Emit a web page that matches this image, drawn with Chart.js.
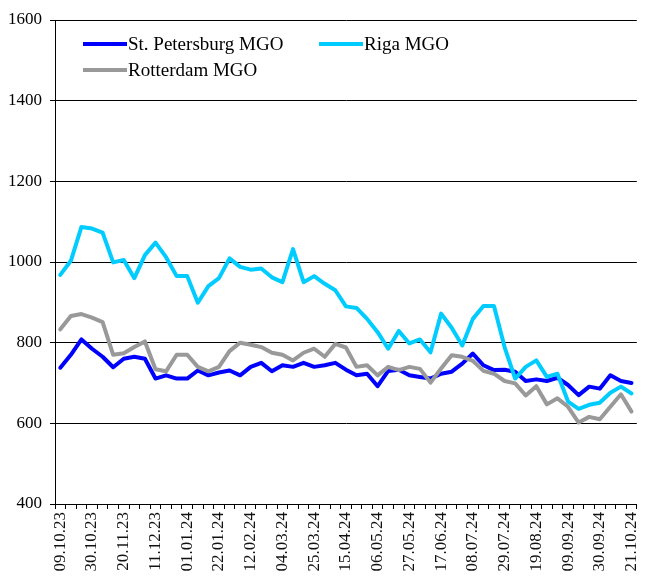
<!DOCTYPE html>
<html>
<head>
<meta charset="utf-8">
<script src="https://cdn.jsdelivr.net/npm/chart.js@4.4.1/dist/chart.umd.min.js"></script>
<style>
  html, body { margin: 0; padding: 0; background: #fff; }
  #wrap { width: 655px; height: 584px; position: relative; }
</style>
</head>
<body>
<div id="wrap"><canvas id="fuelChart"></canvas></div>
<script>
// weekly dates (every third one is labelled on the axis)
const dates = [
  '09.10.23', '16.10.23', '23.10.23', '30.10.23', '06.11.23', '13.11.23', '20.11.23', '27.11.23',
  '04.12.23', '11.12.23', '18.12.23', '25.12.23', '01.01.24', '08.01.24', '15.01.24', '22.01.24',
  '29.01.24', '05.02.24', '12.02.24', '19.02.24', '26.02.24', '04.03.24', '11.03.24', '18.03.24',
  '25.03.24', '01.04.24', '08.04.24', '15.04.24', '22.04.24', '29.04.24', '06.05.24', '13.05.24',
  '20.05.24', '27.05.24', '03.06.24', '10.06.24', '17.06.24', '24.06.24', '01.07.24', '08.07.24',
  '15.07.24', '22.07.24', '29.07.24', '05.08.24', '12.08.24', '19.08.24', '26.08.24', '02.09.24',
  '09.09.24', '16.09.24', '23.09.24', '30.09.24', '07.10.24', '14.10.24', '21.10.24'
];

const stPetersburg = [
  738, 770, 808, 785, 765, 739, 760, 765, 760, 711, 719, 711, 711, 731, 719, 726,
  731, 719, 740, 750, 729, 744, 740, 750, 740, 744, 750, 733, 719, 723, 692, 730,
  733, 719, 715, 711, 723, 728, 748, 773, 744, 732, 733, 728, 705, 709, 705, 713,
  695, 670, 691, 686, 719, 705, 700
];

const riga = [
  968, 1003, 1087, 1083, 1073, 999, 1005, 960, 1017, 1048, 1012, 965, 965, 899, 940, 960,
  1009, 988, 981, 984, 962, 950, 1032, 950, 965, 946, 930, 890, 886, 859, 826, 785,
  829, 798, 808, 776, 872, 837, 793, 859, 891, 891, 789, 711, 740, 756, 715, 723,
  654, 636, 646, 651, 676, 691, 674
];

const rotterdam = [
  833, 866, 871, 862, 851, 770, 774, 789, 803, 734, 729, 770, 770, 740, 729, 740,
  779, 800, 795, 789, 775, 770, 756, 775, 785, 765, 797, 788, 740, 744, 719, 740,
  732, 740, 735, 701, 736, 769, 765, 755, 730, 723, 705, 699, 669, 692, 647, 662,
  641, 602, 616, 610, 641, 672, 629
];

const yTicks = [400, 600, 800, 1000, 1200, 1400, 1600];

const serif = '"Liberation Serif", "Times New Roman", serif';

// legend drawn inside the plot, two columns like the original
const insideLegend = {
  id: 'insideLegend',
  afterDraw(chart) {
    const ctx = chart.ctx;
    const spots = [
      { x: 83, y: 44 },
      { x: 319, y: 44 },
      { x: 83, y: 70 }
    ];
    ctx.save();
    ctx.font = '19px ' + serif;
    ctx.textBaseline = 'middle';
    chart.data.datasets.forEach((ds, i) => {
      const p = spots[i];
      ctx.strokeStyle = ds.borderColor;
      ctx.lineWidth = 4;
      ctx.beginPath();
      ctx.moveTo(p.x, p.y);
      ctx.lineTo(p.x + 44, p.y);
      ctx.stroke();
      ctx.fillStyle = '#000';
      ctx.fillText(ds.label, p.x + 45, p.y + 1);
    });
    ctx.restore();
  }
};

const ctx = document.getElementById('fuelChart').getContext('2d');
new Chart(ctx, {
  type: 'line',
  data: {
    labels: dates,
    datasets: [
      { label: 'St. Petersburg MGO', data: stPetersburg, borderColor: '#0000FF', order: 3 },
      { label: 'Riga MGO', data: riga, borderColor: '#00CCFF', order: 2 },
      { label: 'Rotterdam MGO', data: rotterdam, borderColor: '#999999', order: 1 }
    ]
  },
  options: {
    responsive: true,
    maintainAspectRatio: false,
    animation: false,
    layout: { padding: { top: 20, right: 10, left: 0, bottom: 0 } },
    elements: {
      line: { borderWidth: 4, tension: 0, borderJoinStyle: 'round', borderCapStyle: 'round' },
      point: { radius: 0 }
    },
    plugins: {
      legend: { display: false },
      tooltip: { enabled: false }
    },
    scales: {
      x: {
        offset: true,
        grid: { display: true, drawOnChartArea: false, offset: true, color: '#000', tickLength: 5 },
        border: { display: true, color: '#000', width: 1 },
        ticks: {
          autoSkip: false,
          maxRotation: 90,
          minRotation: 90,
          padding: 3,
          color: '#111',
          font: { family: serif, size: 17 },
          callback: (v, i) => (i % 3 === 0 ? dates[i] : '')
        },
        afterFit(scale) { scale.height = 80; }
      },
      y: {
        min: 400,
        max: 1600,
        afterBuildTicks(scale) { scale.ticks = yTicks.map(v => ({ value: v })); },
        grid: { color: '#000', lineWidth: 1, tickLength: 5 },
        border: { display: true, color: '#000', width: 1 },
        ticks: {
          color: '#000',
          padding: 8,
          font: { family: serif, size: 17 },
          callback: v => String(v)
        },
        afterFit(scale) { scale.width = 55; }
      }
    }
  },
  plugins: [insideLegend]
});
</script>
</body>
</html>
